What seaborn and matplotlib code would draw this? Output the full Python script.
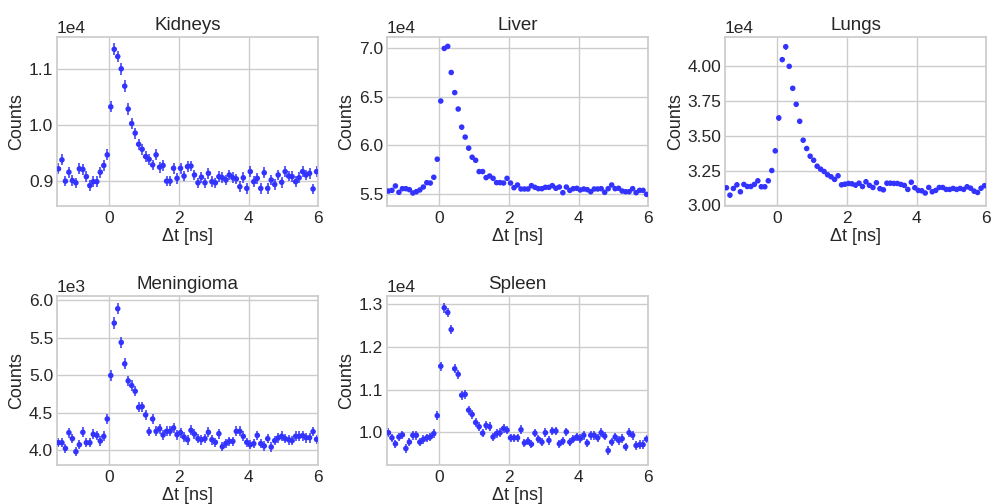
import numpy as np
import matplotlib
matplotlib.use("Agg")
import matplotlib.pyplot as plt
from matplotlib.ticker import MultipleLocator
import seaborn as sns

# Time-bin centres of the photon-arrival histograms (ns)
dt = np.round(np.linspace(-1.45, 5.95, 75), 2)

kidneys = [9210, 9370, 8990, 9150, 9000, 8960, 9210, 9200, 9070, 8910,
           8980, 8980, 9150, 9270, 9460, 10320, 11350, 11220, 11000, 10690,
           10280, 10020, 9850, 9650, 9560, 9430, 9380, 9280, 9460, 9240,
           9270, 8990, 8990, 9220, 9040, 9220, 9080, 9250, 9260, 9100,
           8960, 9060, 8960, 9130, 8980, 8960, 9070, 9050, 9010, 9100,
           9050, 9030, 8890, 9050, 8860, 9160, 8980, 9040, 8860, 9140,
           8860, 9010, 8930, 9100, 8970, 9160, 9080, 9070, 8980, 9050,
           9160, 9100, 9130, 8850, 9160]

liver = [55340, 55410, 55860, 55210, 55580, 55580, 55480, 55140, 55270, 55450,
         55750, 56200, 56160, 56750, 58600, 64550, 69930, 70140, 67470, 65410,
         63730, 61880, 60860, 59730, 58800, 58490, 57330, 57330, 56710, 56880,
         56640, 56200, 56200, 56160, 56640, 56160, 55680, 55960, 55550, 55550,
         55550, 55890, 55720, 55580, 55580, 55720, 55720, 55890, 55620, 55750,
         55170, 55750, 55410, 55580, 55620, 55450, 55550, 55480, 55270, 55550,
         55550, 55580, 55210, 55580, 55960, 55580, 55620, 55340, 55270, 55270,
         55580, 55170, 55410, 55410, 55000]

lungs = [31270, 30740, 31220, 31480, 30980, 31510, 31360, 31360, 31510, 31770,
         31340, 31340, 31770, 32510, 33920, 36290, 40480, 41410, 40000, 38420,
         37270, 36050, 34690, 34090, 33540, 33250, 32820, 32610, 32440, 32200,
         32060, 31870, 32130, 31480, 31530, 31580, 31550, 31460, 31600, 31360,
         31700, 31440, 31290, 31630, 31200, 31120, 31600, 31600, 31580, 31580,
         31510, 31440, 31150, 31670, 31270, 31080, 31050, 30890, 31290, 30980,
         31080, 31290, 31290, 31150, 31150, 31220, 31150, 31220, 31150, 31340,
         31240, 31030, 30930, 31240, 31420]

meningioma = [4098, 4098, 4022, 4232, 4152, 3978, 4071, 4237, 4098, 4098,
              4210, 4196, 4121, 4183, 4415, 4996, 5696, 5888, 5438, 5152,
              4924, 4862, 4786, 4571, 4580, 4469, 4246, 4415, 4250, 4286,
              4201, 4250, 4250, 4295, 4205, 4232, 4174, 4138, 4263, 4214,
              4152, 4138, 4152, 4237, 4138, 4103, 4219, 4045, 4089, 4116,
              4116, 4250, 4250, 4183, 4103, 4071, 4085, 4196, 4085, 4054,
              4152, 4040, 4125, 4161, 4183, 4152, 4138, 4125, 4183, 4183,
              4192, 4165, 4165, 4246, 4143]

spleen = [9990, 9870, 9730, 9890, 9940, 9620, 9770, 9930, 9930, 9770,
          9830, 9870, 9890, 9970, 10390, 11550, 12920, 12810, 12410, 11490,
          11360, 10870, 10890, 10520, 10420, 10230, 10130, 9980, 10160, 10130,
          9890, 9970, 9990, 10090, 10050, 9870, 9870, 9870, 10060, 9750,
          9790, 9720, 9980, 9840, 9770, 9990, 9810, 10030, 10030, 9730,
          9790, 10010, 9770, 9840, 9890, 9850, 9930, 9750, 9930, 9930,
          9870, 9990, 9910, 9570, 9770, 9890, 9810, 9850, 9660, 9990,
          9930, 9690, 9710, 9710, 9840]

tissues = ["Kidneys", "Liver", "Lungs", "Meningioma", "Spleen"]
series = [kidneys, liver, lungs, meningioma, spleen]

# y range and y tick step of each panel (counts)
y_ranges = [(8550, 11575), (53840, 71130), (29980, 42130),
            (3804, 6062), (9240, 13204)]
y_steps = [1000, 5000, 2500, 500, 1000]

sns.set_theme(style="whitegrid", context="notebook")
plt.rcParams["font.family"] = ["Liberation Sans", "DejaVu Sans"]
plt.rcParams.update({
    "axes.titlesize": 13.5,
    "axes.labelsize": 13,
    "xtick.labelsize": 12.5,
    "ytick.labelsize": 12.5,
    "xtick.major.size": 0,
    "ytick.major.size": 0,
    "xtick.major.pad": 3.5,
    "ytick.major.pad": 2.5,
    "axes.titlepad": 5,
})

W, H = 991, 504
fig = plt.figure(figsize=(W / 100, H / 100), dpi=100)

# panel boxes in pixels: left edges of the columns, top edges of the rows
col_left = [56.7, 386.7, 724.7]
row_top = [36.7, 295.7]
box_w, box_h = 261.6, 169.0

axes = []
for r in range(2):
    for c in range(3):
        if r == 1 and c == 2:
            continue
        rect = [col_left[c] / W, 1 - (row_top[r] + box_h) / H,
                box_w / W, box_h / H]
        axes.append(fig.add_axes(rect))

point_color = "#3333ff"
for ax, name, counts, yr, step in zip(axes, tissues, series, y_ranges, y_steps):
    counts = np.asarray(counts, dtype=float)
    # Poisson uncertainty on each histogram bin
    ax.errorbar(dt, counts, yerr=np.sqrt(counts), fmt="none",
                ecolor=point_color, elinewidth=1.1, capsize=0, zorder=2)
    sns.scatterplot(x=dt, y=counts, ax=ax, color=point_color, s=16,
                    edgecolor="none", linewidth=0, zorder=3)
    ax.set_xlim(-1.5, 6.0)
    ax.set_ylim(*yr)
    ax.set_xticks([0, 2, 4, 6])
    ax.yaxis.set_major_locator(MultipleLocator(step))
    ax.ticklabel_format(axis="y", style="sci", scilimits=(0, 0))
    ax.set_title(name)
    ax.set_xlabel("Δt [ns]", labelpad=2)
    ax.set_ylabel("Counts", labelpad=2.5)

fig.savefig("out.png", dpi=100)
